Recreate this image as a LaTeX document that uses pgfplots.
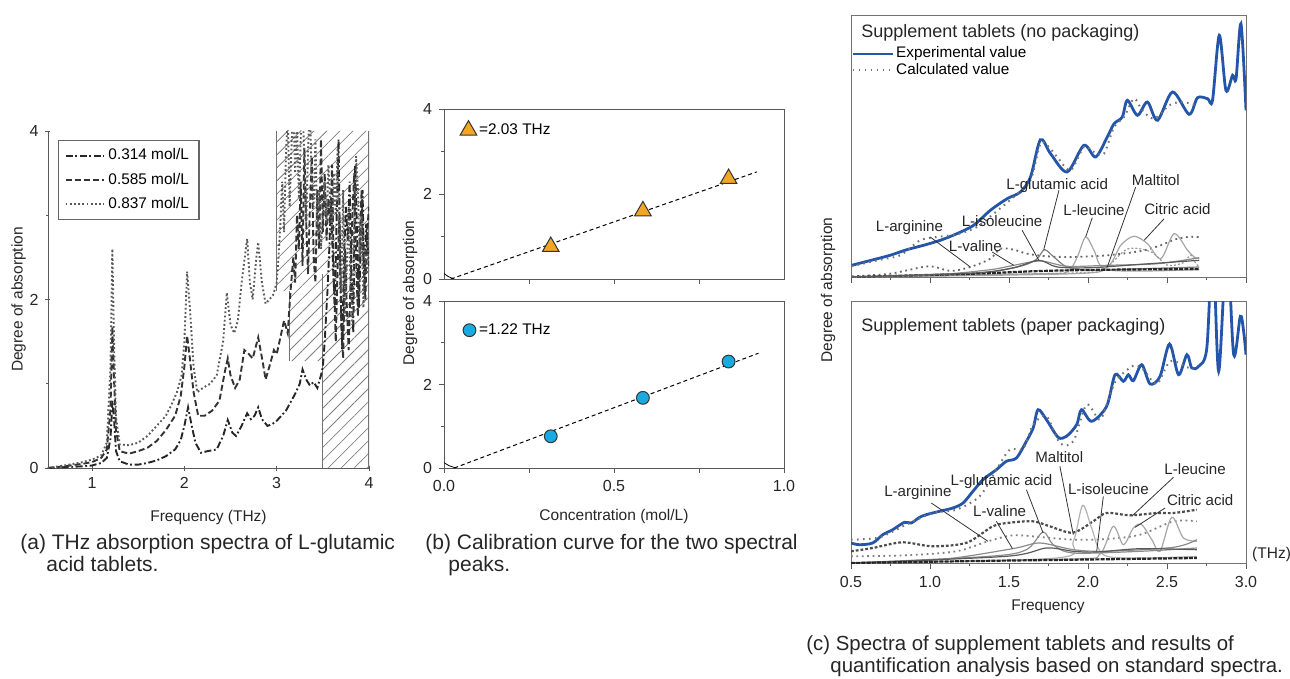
\documentclass[border=0pt]{standalone}
\usepackage{fontspec}
\setmainfont{Liberation Sans}
\usepackage{pgfplots}
\pgfplotsset{compat=1.18}
\usetikzlibrary{patterns.meta}
\definecolor{expblue}{RGB}{35,85,170}
\definecolor{triorange}{RGB}{242,166,35}
\definecolor{circblue}{RGB}{25,170,225}
\newcommand\capfont{\fontsize{10.5}{12.6}\selectfont}
\newcommand\lblfont{\fontsize{7.75}{9.3}\selectfont}
\newcommand\cfont{\fontsize{7.55}{9}\selectfont}
\pgfplotsset{
 base/.style={scale only axis, tick align=outside,
   /pgf/number format/assume math mode=true,
   tick label style={font=\fontsize{8}{9.6}\selectfont, text=black!85},
   label style={font=\lblfont, text=black!85},
   axis line style={black!65}, tick style={black!65, line width=0.4pt},
   major tick length=2.5pt, minor tick length=1.5pt},
 spec/.style={line width=0.95pt},
 comp/.style={smooth, forget plot, line width=0.6pt},
}
\begin{document}
\begin{tikzpicture}
\useasboundingbox (0,0) rectangle (645pt,-339.5pt);
%================ (a) =================
\begin{axis}[base, at={(24pt,-65.5pt)}, anchor=north west, width=160.5pt, height=168.5pt,
  xmin=0.523, xmax=4, ymin=0, ymax=4,
  axis x line=bottom, axis y line=left, axis line style={-},
  xtick={1,2,3,4}, ytick={0,2,4}, minor ytick={1,3},
  xlabel={Frequency (THz)}, ylabel={Degree of absorption},
  xlabel shift=4pt, ylabel shift=-5pt,
  legend cell align=left,
  legend style={at={(0.031,0.973)}, anchor=north west, draw=black!60, line width=0.6pt,
    font=\fontsize{7.7}{9}\selectfont, row sep=1pt, inner xsep=3pt, inner ysep=2pt},
  legend image code/.code={\draw[#1] (0pt,0pt) -- (19pt,0pt);}]
\fill[pattern={Lines[angle=45,distance=4.6pt,line width=0.4pt]}, pattern color=black!50]
  (axis cs:3,4) -- (axis cs:3,2.1) -- (axis cs:3.14,2.1) -- (axis cs:3.14,1.27) -- (axis cs:3.5,1.27)
  -- (axis cs:3.5,0) -- (axis cs:4,0) -- (axis cs:4,4) -- cycle;
\draw[black!55, line width=0.6pt] (axis cs:3,4) -- (axis cs:3,2.1) (axis cs:3.14,2.1) -- (axis cs:3.14,1.27)
  (axis cs:3.5,2.3) -- (axis cs:3.5,0) (axis cs:4,0) -- (axis cs:4,4);
\addplot[spec, black!85, dash pattern=on 3.5pt off 1.3pt on 0.9pt off 1.3pt] table {
0.52 0.0
0.7 0.01
0.9 0.02
1.0 0.03
1.1 0.06
1.16 0.12
1.2 0.35
1.22 0.8
1.24 0.55
1.26 0.2
1.3 0.08
1.4 0.04
1.5 0.04
1.6 0.06
1.7 0.09
1.8 0.14
1.9 0.22
1.96 0.33
2.0 0.5
2.04 0.72
2.08 0.5
2.12 0.3
2.18 0.18
2.25 0.2
2.35 0.22
2.42 0.38
2.47 0.57
2.52 0.42
2.56 0.38
2.62 0.5
2.68 0.65
2.72 0.58
2.76 0.62
2.8 0.72
2.84 0.58
2.9 0.5
2.95 0.52
3.0 0.56
3.05 0.62
3.1 0.68
3.15 0.78
3.2 0.88
3.25 1.0
3.28 1.17
3.32 1.05
3.36 0.98
3.4 1.02
3.44 0.95
3.48 1.1
3.5 1.2
3.52 1.5
3.55 2.1
3.57 2.6
3.59 3.2
3.61 2.4
3.63 1.9
3.65 3.0
3.67 3.9
3.69 2.2
3.71 1.4
3.73 2.5
3.75 3.1
3.77 2.7
3.79 3.4
3.81 2.3
3.83 1.6
3.85 3.6
3.87 2.8
3.89 1.9
3.91 2.6
3.93 3.3
3.95 2.1
3.97 2.9
4.0 2.4
};
\addlegendentry{0.314 mol/L}
\addplot[spec, black!80, dash pattern=on 3pt off 1.5pt] table {
0.52 0.0
0.7 0.02
0.9 0.05
1.0 0.07
1.1 0.12
1.16 0.22
1.2 0.7
1.22 1.68
1.24 1.0
1.26 0.45
1.3 0.2
1.4 0.17
1.5 0.2
1.6 0.24
1.7 0.32
1.8 0.45
1.9 0.62
1.96 0.85
2.0 1.2
2.03 1.57
2.06 1.3
2.1 0.9
2.15 0.62
2.22 0.62
2.3 0.68
2.38 0.8
2.44 1.15
2.47 1.3
2.5 1.1
2.55 0.95
2.6 1.05
2.65 1.4
2.7 1.35
2.74 1.3
2.8 1.55
2.85 1.25
2.88 1.05
2.92 1.2
2.97 1.4
3.0 1.35
3.04 1.55
3.08 1.75
3.12 1.6
3.15 2.1
3.18 2.5
3.2 2.2
3.22 3.0
3.24 2.6
3.26 3.4
3.28 2.4
3.3 3.8
3.32 2.9
3.34 2.3
3.36 3.1
3.38 3.7
3.4 2.5
3.42 2.2
3.44 3.3
3.46 2.6
3.48 3.9
3.5 2.8
3.52 3.5
3.54 2.7
3.56 3.2
3.58 2.9
3.6 3.6
3.62 2.2
3.64 1.5
3.66 2.4
3.68 3.0
3.7 1.7
3.72 1.3
3.74 2.6
3.76 1.9
3.78 1.4
3.8 2.2
3.82 3.0
3.84 3.5
3.86 2.5
3.88 1.8
3.9 2.7
3.92 3.3
3.94 2.4
3.96 2.0
3.98 2.8
4.0 3.1
};
\addlegendentry{0.585 mol/L}
\addplot[spec, black!65, dash pattern=on 0.9pt off 1.2pt] table {
0.52 0.0
0.7 0.03
0.9 0.07
1.0 0.1
1.1 0.15
1.16 0.3
1.2 1.2
1.22 2.6
1.24 1.4
1.26 0.6
1.3 0.28
1.4 0.27
1.5 0.3
1.6 0.38
1.7 0.5
1.8 0.62
1.86 0.75
1.92 0.9
1.97 1.1
2.0 1.5
2.03 2.33
2.06 1.9
2.1 1.2
2.14 0.9
2.2 0.95
2.28 1.0
2.35 1.1
2.42 1.5
2.46 2.08
2.5 1.7
2.54 1.6
2.58 1.75
2.62 2.2
2.66 2.55
2.68 2.72
2.71 2.2
2.74 2.0
2.78 2.5
2.8 2.68
2.84 2.2
2.88 1.95
2.92 2.0
2.96 2.05
3.0 2.2
3.02 2.5
3.04 2.9
3.06 3.4
3.08 2.8
3.1 3.7
3.12 4.2
3.14 3.1
3.16 3.8
3.18 4.3
3.2 3.5
3.22 4.1
3.24 3.2
3.26 3.9
3.28 4.4
3.3 3.6
3.32 2.9
3.34 3.8
3.36 4.3
3.38 3.4
3.4 3.1
3.42 3.9
3.44 2.8
3.46 3.3
3.48 2.6
3.5 3.0
3.52 3.4
3.54 2.9
3.56 3.6
3.58 3.2
3.6 2.7
3.62 3.5
3.64 3.0
3.66 3.8
3.68 2.6
3.7 2.1
3.72 3.3
3.74 1.8
3.76 2.4
3.78 3.1
3.8 2.2
3.82 1.7
3.84 2.9
3.86 3.7
3.88 3.3
3.9 2.5
3.92 3.0
3.94 1.9
3.96 2.6
3.98 2.3
4.0 2.8
};
\addlegendentry{0.837 mol/L}
\end{axis}
%================ (b) top =================
\begin{axis}[base, at={(222pt,-54.5pt)}, anchor=north west, width=170pt, height=85pt,
  xmin=0, xmax=1, ymin=0, ymax=4,
  xtick={0.25,0.5,0.75}, xticklabels={}, ytick={0,2,4}, minor ytick={1,3},
  ytick pos=left, xtick pos=bottom]
\addplot[black, line width=0.5pt, dash pattern=on 2pt off 1.5pt] coordinates {(0.02,0) (0.92,2.52)};
\addplot[black, line width=0.4pt, smooth] coordinates {(0,0.13) (0.012,0.06) (0.03,0)};
\addplot[only marks, mark=triangle*, mark size=4.8pt, mark options={fill=triorange, draw=black!80, line width=0.5pt}]
  coordinates {(0.314,0.76) (0.585,1.6) (0.837,2.36)};
\addplot[only marks, mark=triangle*, mark size=4.8pt, mark options={fill=triorange, draw=black!80, line width=0.5pt}]
  coordinates {(0.072,3.5)};
\node[anchor=west, font=\fontsize{7.7}{9}\selectfont, inner sep=0pt] at (axis cs:0.102,3.52) {=2.03 THz};
\end{axis}
%================ (b) bottom =================
\begin{axis}[base, at={(222pt,-150.5pt)}, anchor=north west, width=170pt, height=83.5pt,
  xmin=0, xmax=1, ymin=0, ymax=4,
  xtick={0,0.25,0.5,0.75,1}, xticklabels={0.0,,0.5,,1.0}, ytick={0,2,4}, minor ytick={1,3},
  ytick pos=left, xtick pos=bottom,
  xlabel={Concentration (mol/L)}, xlabel shift=2pt]
\addplot[black, line width=0.5pt, dash pattern=on 2pt off 1.5pt] coordinates {(0.03,0) (0.925,2.75)};
\addplot[black, line width=0.4pt, smooth] coordinates {(0,0.13) (0.014,0.06) (0.035,0)};
\addplot[only marks, mark=*, mark size=3.2pt, mark options={fill=circblue, draw=black!80, line width=0.5pt}]
  coordinates {(0.314,0.76) (0.585,1.68) (0.837,2.55)};
\addplot[only marks, mark=*, mark size=3.2pt, mark options={fill=circblue, draw=black!80, line width=0.5pt}]
  coordinates {(0.075,3.3)};
\node[anchor=west, font=\fontsize{7.7}{9}\selectfont, inner sep=0pt] at (axis cs:0.102,3.32) {=1.22 THz};
\end{axis}
\node[rotate=90, font=\lblfont, text=black!85] at (205pt,-146.5pt) {Degree of absorption};
%================ (c) top =================
\begin{axis}[base, at={(425.5pt,-7.5pt)}, anchor=north west, width=197.5pt, height=131pt,
  xmin=0.5, xmax=3, ymin=0, ymax=262, axis line style={black!55},
  xtick={0.5,1,...,3}, minor x tick num=1, xticklabels={}, ytick=\empty, xtick pos=bottom,
  major tick length=3pt,
  legend cell align=left,
  legend style={at={(0,0.82)}, anchor=west, draw=none, fill=none, font=\fontsize{7.65}{9}\selectfont,
    row sep=0pt, inner xsep=0pt, nodes={inner ysep=0.6pt, inner xsep=1pt}},
  legend image code/.code={\draw[#1] (0pt,0pt) -- (20pt,0pt);}]
\addplot[smooth, expblue, line width=1.4pt] table {
0.504 11.7
0.642 17.3
0.747 21.7
0.853 27.3
0.959 31.7
1.065 36.7
1.170 43.3
1.276 51.7
1.382 66.7
1.488 78.3
1.572 85
1.636 100
1.699 137.3
1.763 123.3
1.868 105
1.974 131.7
2.048 120
2.122 140
2.165 153.3
2.217 160
2.249 176.7
2.313 161.7
2.376 175
2.440 156.7
2.535 185
2.640 162.7
2.693 179.3
2.757 178.3
2.788 176.7
2.831 241.7
2.873 186.7
2.915 201.7
2.937 198.3
2.968 253.3
3.000 166.7
};
\addlegendentry{Experimental value}
\addplot[smooth, black!55, line width=1pt, dash pattern=on 0.8pt off 2.2pt] table {
0.504 10.7
0.684 17.3
0.811 21.7
0.938 36.7
1.044 40
1.170 42.7
1.297 50
1.403 63.3
1.530 80
1.636 96.7
1.699 133.3
1.752 130
1.805 120
1.890 106.7
1.974 130
2.038 125
2.101 123.3
2.165 150
2.228 160
2.291 178.3
2.344 166.7
2.418 158.3
2.514 171.7
2.588 175
2.651 173.3
2.683 171.7
};
\addlegendentry{Calculated value}
% components
\addplot[comp, black!60, line width=0.9pt, dash pattern=on 0.9pt off 1.8pt] table {
0.504 0.7
0.747 3.3
0.991 10.7
1.128 6
1.255 10
1.382 18.3
1.445 28.3
1.530 27.3
1.615 23.3
1.742 20.7
1.911 20
2.122 21.7
2.334 26
2.461 31.7
2.545 37.3
2.630 40
2.704 40
};
\addplot[comp, black!50] table {
0.504 0
1.065 1.7
1.382 5
1.593 11.7
1.678 18.3
1.725 27.3
1.784 20
1.868 10
2.016 6.7
2.334 8.3
2.704 10
};
\addplot[comp, black!35] table {
0.504 0
1.699 3.3
1.868 5
1.932 20
1.985 40
2.038 26.7
2.101 8.3
2.334 6
2.704 7.3
};
\addplot[comp, black!35] table {
0.504 0
1.911 3.3
2.122 10
2.207 31.7
2.291 40.7
2.376 33.3
2.461 18.3
2.545 43.3
2.630 26.7
2.672 20
2.704 18.3
};
\addplot[comp, black!40, dash pattern=on 1pt off 1pt] table {
0.504 0
1.9 4
2.1 8
2.25 28
2.4 25
2.5 12
2.6 14
2.65 22
2.68 14
2.704 10
};
\addplot[comp, black!85, line width=1.1pt, dash pattern=on 2pt off 0.6pt] table {
0.504 0
1.276 3.3
1.699 6
2.122 7.3
2.704 8
};
\addplot[comp, black!45] table {
0.504 0
1.065 2.7
1.382 7.3
1.530 11.7
1.699 16
1.868 10.7
2.122 11.7
2.440 13.3
2.704 19.3
};
\addplot[comp, black!65] table {
0.504 0
1.276 4
1.530 9.3
1.689 16.7
1.805 10
2.016 9.3
2.334 12.7
2.704 16.7
};
\node[anchor=west, font=\fontsize{9}{10.8}\selectfont, text=black!85, inner sep=0pt] at (rel axis cs:0.025,0.932) {Supplement tablets (no packaging)};
\draw[black!80, line width=0.4pt] (axis cs:1.001,40) -- (axis cs:1.255,10)
  (axis cs:1.583,46.7) -- (axis cs:1.689,16.7)
  (axis cs:1.393,25) -- (axis cs:1.530,11.7)
  (axis cs:1.816,86.7) -- (axis cs:1.720,27.3)
  (axis cs:2.027,59.3) -- (axis cs:1.985,40)
  (axis cs:2.302,90) -- (axis cs:2.122,10)
  (axis cs:2.482,58.3) -- (axis cs:2.355,36.7);
\begin{scope}[every node/.style={font=\cfont, text=black!85, inner sep=0pt}]
\node at (axis cs:0.870,49.3) {L-arginine};
\node at (axis cs:1.456,56) {L-isoleucine};
\node at (axis cs:1.287,31) {L-valine};
\node at (axis cs:1.805,91.7) {L-glutamic acid};
\node at (axis cs:2.038,66.7) {L-leucine};
\node at (axis cs:2.429,97.3) {Maltitol};
\node at (axis cs:2.566,67.7) {Citric acid};
\end{scope}
\end{axis}
%================ (c) bottom =================
\begin{axis}[base, at={(425.5pt,-150.5pt)}, anchor=north west, width=197.5pt, height=131pt,
  xmin=0.5, xmax=3, ymin=0, ymax=262, axis line style={black!55},
  xtick={0.5,1,...,3}, minor x tick num=1, xticklabels={0.5,1.0,1.5,2.0,2.5,3.0},
  ytick=\empty, xtick pos=bottom, major tick length=3pt]
\addplot[smooth, expblue, line width=1.4pt] table {
0.500 20
0.553 18.3
0.637 20
0.701 28.3
0.764 33.3
0.838 40.7
0.881 40
0.934 45.7
0.976 48.3
1.060 51.7
1.145 55
1.209 60
1.272 71.7
1.335 83.3
1.420 93.3
1.483 101.7
1.547 105
1.610 121.7
1.653 135
1.684 153.3
1.737 143.3
1.811 125.7
1.864 126.7
1.928 138.3
1.959 153.3
2.023 141.7
2.118 156.7
2.171 188.3
2.224 181.7
2.256 188.3
2.287 182.3
2.340 198.3
2.393 179
2.456 186.7
2.516 219
2.573 188.3
2.626 208.3
2.657 195
2.700 196.7
2.752 215
2.790 320
2.827 191.7
2.879 320
2.922 208.3
2.964 246.7
2.985 231.7
3.000 208.3
};
\addplot[smooth, black!55, line width=1pt, dash pattern=on 0.8pt off 2.2pt] table {
0.500 23.3
0.680 25.7
0.849 38.3
1.018 50
1.166 53.3
1.314 66.7
1.420 93.3
1.505 113.3
1.589 114.3
1.653 138.3
1.737 146.7
1.822 120
1.907 121.7
1.991 158.3
2.076 143.3
2.139 168.3
2.181 183.3
2.287 197.3
2.351 193.3
2.435 179
2.520 201.7
2.626 195.7
2.668 194.3
};
% components
\addplot[comp, black!70, line width=1.1pt, dash pattern=on 1.4pt off 1pt] table {
0.500 11.7
0.637 15
0.826 20.7
1.016 16.7
1.232 20.3
1.397 36.7
1.505 40.3
1.651 41.7
1.758 36.7
1.904 30.3
2.033 41.7
2.118 50
2.266 47.7
2.435 50
2.541 50
2.689 53.3
};
\addplot[comp, black!50, line width=0.9pt, dash pattern=on 0.9pt off 1.8pt] table {
0.500 6.7
0.849 7.7
1.166 11.7
1.367 21.7
1.526 27.7
1.695 26
1.907 23.3
2.118 24
2.330 28.3
2.541 41.7
2.689 41.7
};
\addplot[comp, black!30] table {
0.500 0
1.801 5
1.907 21.7
1.966 57.7
2.023 35
2.097 8.3
2.330 5
2.689 6.7
};
\addplot[comp, black!35] table {
0.500 0
1.900 4
2.076 9
2.160 36.7
2.224 18.3
2.287 35
2.340 38.3
2.404 23.3
2.456 11.7
2.530 45.7
2.604 25
2.689 21.7
};
\addplot[comp, black!45] table {
0.500 0
1.378 6.7
1.610 13.3
1.716 31
1.780 18.3
1.907 10
2.330 11.7
2.689 15
};
\addplot[comp, black!45] table {
0.500 0
1.060 3.3
1.522 14.3
1.695 20
1.907 13.3
2.118 11.7
2.541 15.7
2.689 23.3
};
\addplot[comp, black!65] table {
0.500 0
1.483 6.7
1.737 15
1.907 11.7
2.055 11
2.330 14.3
2.689 13.3
};
\addplot[comp, black!85, line width=1.1pt, dash pattern=on 2pt off 0.6pt] table {
0.500 0
1.300 2
2.000 3.5
2.689 5
};
\node[anchor=west, font=\fontsize{9}{10.8}\selectfont, text=black!85, inner sep=0pt] at (rel axis cs:0.025,0.9) {Supplement tablets (paper packaging)};
\draw[black!80, line width=0.4pt] (axis cs:1.008,60) -- (axis cs:1.367,21.7)
  (axis cs:1.610,73.3) -- (axis cs:1.716,30)
  (axis cs:1.420,41.7) -- (axis cs:1.522,14.3)
  (axis cs:1.822,96.7) -- (axis cs:1.907,28.3)
  (axis cs:2.097,66.7) -- (axis cs:2.055,11.7)
  (axis cs:2.541,85.7) -- (axis cs:2.277,46.7)
  (axis cs:2.488,55) -- (axis cs:2.298,35.7);
\begin{scope}[every node/.style={font=\cfont, text=black!85, inner sep=0pt}]
\node at (axis cs:0.923,70.7) {L-arginine};
\node at (axis cs:1.452,81.7) {L-glutamic acid};
\node at (axis cs:1.441,51.7) {L-valine};
\node at (axis cs:1.818,105.7) {Maltitol};
\node at (axis cs:2.129,74.3) {L-isoleucine};
\node at (axis cs:2.678,94.3) {L-leucine};
\node at (axis cs:2.710,62.7) {Citric acid};
\end{scope}
\end{axis}
\node[rotate=90, font=\lblfont, text=black!85] at (414pt,-145pt) {Degree of absorption};
\node[font=\lblfont, text=black!85] at (524pt,-303.5pt) {Frequency};
\node[font=\lblfont, text=black!85] at (635.8pt,-277pt) {(THz)};
%================ captions =================
\begin{scope}[every node/.style={anchor=base west, inner sep=0pt, font=\capfont, text=black!85}]
\node at (10pt,-274.5pt) {(a) THz absorption spectra of L-glutamic};
\node at (23pt,-285.5pt) {acid tablets.};
\node at (212.5pt,-274.5pt) {(b) Calibration curve for the two spectral};
\node at (224pt,-285.5pt) {peaks.};
\node[font=\fontsize{10.2}{12.2}\selectfont] at (403pt,-325pt) {(c) Spectra of supplement tablets and results of};
\node[font=\fontsize{10.2}{12.2}\selectfont] at (415pt,-336pt) {quantification analysis based on standard spectra.};
\end{scope}
\end{tikzpicture}
\end{document}
